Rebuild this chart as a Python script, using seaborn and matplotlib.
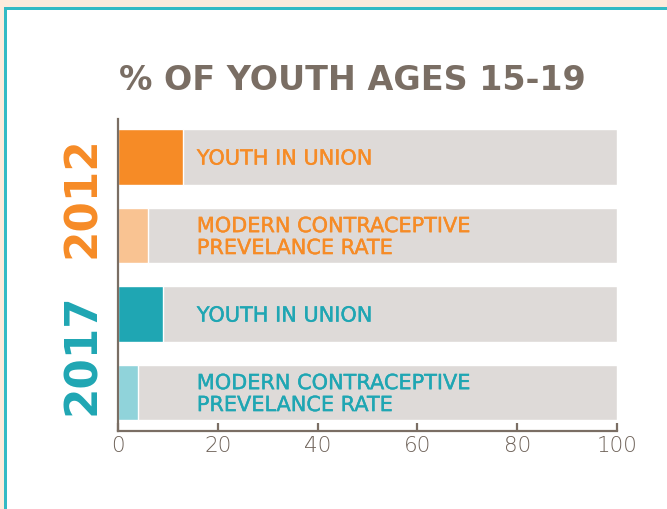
import matplotlib
matplotlib.use("Agg")
import matplotlib.pyplot as plt
import matplotlib.patches as mpatches
import matplotlib.patheffects as pe
import matplotlib.transforms as mtransforms
import pandas as pd
import seaborn as sns

# Data
rows = ["2012 union", "2012 mcpr", "2017 union", "2017 mcpr"]
row_labels = ["YOUTH IN UNION", "MODERN CONTRACEPTIVE\nPREVELANCE RATE",
              "YOUTH IN UNION", "MODERN CONTRACEPTIVE\nPREVELANCE RATE"]
values = [13, 6, 9, 4]
full_scale = [100, 100, 100, 100]
years = ["2012", "2017"]
x_ticks = [0, 20, 40, 60, 80, 100]

# Colours
bar_colors = ["#F68B26", "#F9C392", "#1FA6B3", "#90D3DA"]
text_colors = ["#F68B26", "#F68B26", "#1FA6B3", "#1FA6B3"]
year_colors = ["#F68B26", "#1FA6B3"]
track_color = "#DEDAD8"
ink = "#7A6E64"
peach = "#FDEBDC"
teal_border = "#34BAC4"

sns.set_theme(style="white")
plt.rcParams["font.family"] = ["DejaVu Sans"]

df = pd.DataFrame({"row": rows, "value": values, "full": full_scale})

fig = plt.figure(figsize=(6.67, 5.10), dpi=100)
fig.patch.set_facecolor("white")

# peach strip + teal frame behind the chart
bg = fig.add_axes([0, 0, 1, 1], zorder=-1)
bg.set_xlim(0, 667)
bg.set_ylim(510, 0)
bg.axis("off")
bg.add_patch(mpatches.Rectangle((0, 0), 667, 510, color=peach, lw=0))
bg.add_patch(mpatches.Rectangle((4, 8), 663, 502, color=teal_border, lw=0))
bg.add_patch(mpatches.Rectangle((7, 11), 660, 499, color="white", lw=0))

ax = fig.add_axes([118 / 667, 1 - 432 / 510, 499 / 667, 312 / 510])
ax.set_facecolor("none")

sns.barplot(data=df, x="full", y="row", color=track_color, width=0.71,
            saturation=1, ax=ax)
sns.barplot(data=df, x="value", y="row", hue="row", palette=bar_colors,
            width=0.71, saturation=1, legend=False, ax=ax)

ax.set_xlim(0, 100)
ax.set_ylim(3.49, -0.484)
ax.set_xlabel("")
ax.set_ylabel("")
ax.set_yticks([])
ax.set_xticks(x_ticks)
ax.set_xticklabels([str(t) for t in x_ticks], fontsize=15.5, color="#6E6259",
                   fontweight="light")
ax.tick_params(axis="x", direction="in", length=6, width=1.6, color=ink,
               pad=3, bottom=True)
for side in ["top", "right"]:
    ax.spines[side].set_visible(False)
for side in ["left", "bottom"]:
    ax.spines[side].set_color(ink)
    ax.spines[side].set_linewidth(1.6)

for i, (lab, col) in enumerate(zip(row_labels, text_colors)):
    ax.text(15.8, i + 0.02, lab, color=col, fontsize=15,
            va="center", ha="left", linespacing=1.12,
            path_effects=[pe.withStroke(linewidth=0.3, foreground=col)])

trans = mtransforms.blended_transform_factory(ax.transAxes, ax.transData)
for k, (yr, col) in enumerate(zip(years, year_colors)):
    ax.text(-0.072, 2 * k + 0.5, yr, transform=trans, rotation=90,
            color=col, fontsize=31.5, fontweight="bold", ha="center",
            va="center")

fig.text(352 / 667, 1 - 80 / 510, "% OF YOUTH AGES 15-19", color=ink,
         fontsize=24, fontweight="bold", ha="center", va="center")

fig.savefig("out.png", dpi=100)
